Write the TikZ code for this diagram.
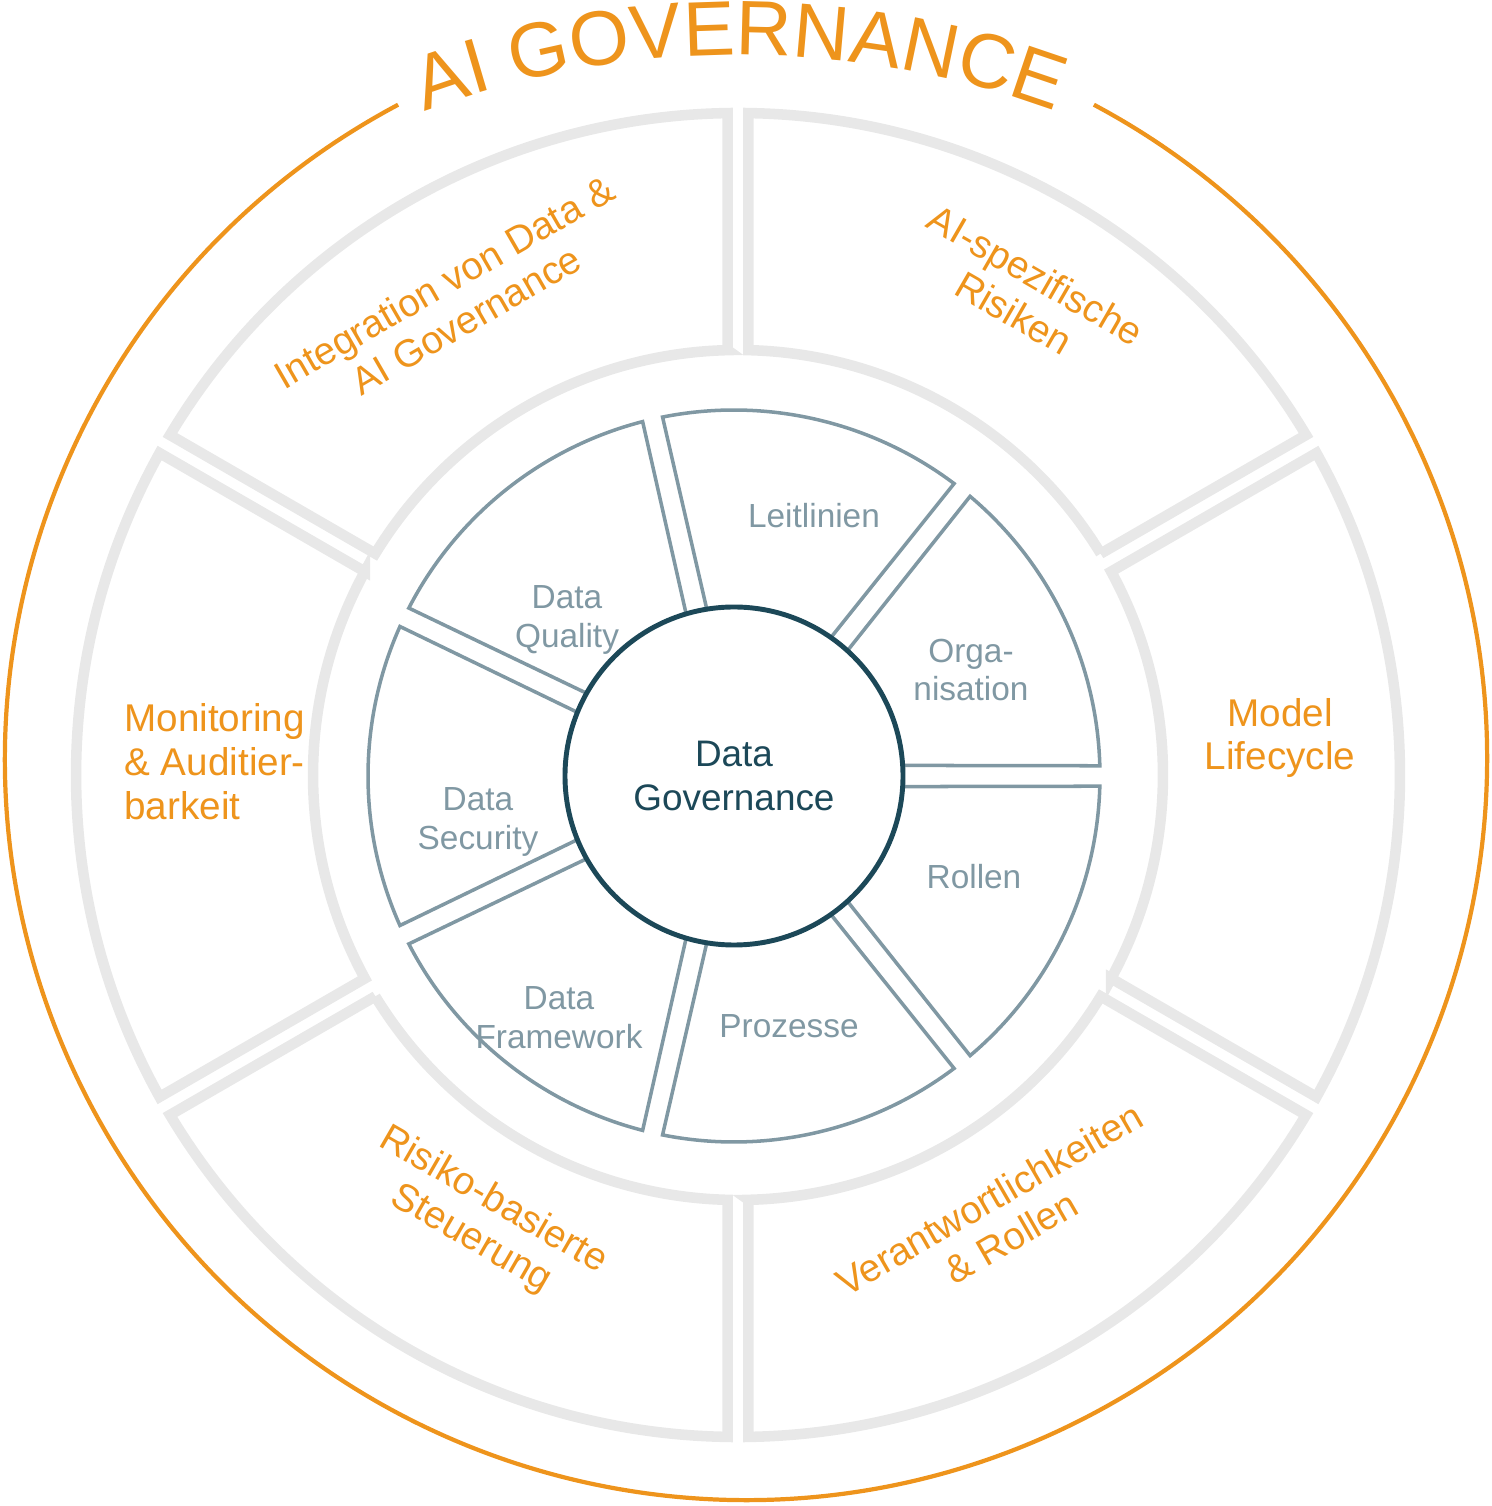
\documentclass[tikz,border=0pt]{standalone}
\usepackage{fontspec}
\setmainfont{Liberation Sans}
\usetikzlibrary{decorations.text}
\definecolor{aiorange}{RGB}{238,148,28}
\definecolor{segline}{RGB}{128,152,163}
\definecolor{dgteal}{RGB}{28,72,88}
\tikzset{
  ringseg/.style={fill=white, draw=black!9, line width=3pt},
  dgseg/.style={fill=white, draw=segline, line width=1pt},
  outerlabel/.style={text=aiorange, font=\fontsize{11}{12.5}\selectfont, align=center},
  innerlabel/.style={text=segline, font=\fontsize{9.5}{11}\selectfont, align=center}
}
% style, start angle, width angle, inner r, outer r, inner gap, outer gap
\newcommand{\annseg}[7]{%
  \pgfmathsetmacro{\segsa}{#2+#6}%
  \pgfmathsetmacro{\segsb}{#2+#7}%
  \pgfmathsetmacro{\segea}{#2+#3-#6}%
  \pgfmathsetmacro{\segeb}{#2+#3-#7}%
  \path[#1] (\segsa:#4) -- (\segsb:#5) arc[start angle=\segsb, end angle=\segeb, radius=#5]
    -- (\segea:#4) arc[start angle=\segea, end angle=\segsa, radius=#4] -- cycle;}
\begin{document}
\begin{tikzpicture}
  \useasboundingbox (0,0) rectangle (14.91,15.06);
  % outer orange ring and title
  \draw[aiorange, line width=1.2pt] (7.46,7.47) ++(118:7.41) arc[start angle=118, end angle=422, radius=7.41];
  \path[decorate, decoration={text along path, text align=center,
      text={|\fontsize{22}{22}\selectfont\color{aiorange}|AI GOVERNANCE}}]
    (7.40,5.43) ++(111:9.08) arc[start angle=111, end angle=69, radius=9.08];
  % middle ring
  \begin{scope}[shift={(7.38,7.31)}]
    \foreach \segang in {-150,-90,-30,30,90,150}
      {\annseg{ringseg}{\segang}{60}{4.25}{6.62}{1.4}{0.9}}
  \end{scope}
  % inner ring
  \begin{scope}[shift={(7.34,7.30)}]
    \foreach \segang in {0,51.4286,102.8571,154.2857,205.7143,257.1429,308.5714}
      {\annseg{dgseg}{\segang}{51.4286}{1.6}{3.66}{3.8}{1.6}}
    \node[circle, minimum size=3.38cm, fill=white, draw=dgteal, line width=1.4pt,
      text=dgteal, align=center, font=\fontsize{10.5}{12.5}\selectfont] (dg) at (0,0) {Data\\Governance};
  \end{scope}
  % inner labels
  \node[innerlabel] (orga) at (9.71,8.36) {Orga-\\nisation};
  \node[innerlabel] (leit) at (8.14,9.90) {Leitlinien};
  \node[innerlabel] (qual) at (5.67,8.86) {Data\\Quality};
  \node[innerlabel] (secu) at (4.78,6.84) {Data\\Security};
  \node[innerlabel] (fram) at (5.59,4.88) {Data\\Framework};
  \node[innerlabel] (proz) at (7.89,4.80) {Prozesse};
  \node[innerlabel] (roll) at (9.74,6.29) {Rollen};
  % outer labels
  \node[outerlabel, rotate=30] (integ) at (4.55,12.05) {Integration von Data \&\\AI Governance};
  \node[outerlabel, rotate=-30] (risk) at (10.25,12.12) {AI-spezifische\\Risiken};
  \node[outerlabel] (model) at (12.80,7.68) {Model\\Lifecycle};
  \node[outerlabel, rotate=30] (verant) at (10.00,2.88) {Verantwortlichkeiten\\\& Rollen};
  \node[outerlabel, rotate=-30] (steuer) at (4.82,2.86) {Risiko-basierte\\Steuerung};
  \node[outerlabel, align=left, anchor=west] (monit) at (1.12,7.44) {Monitoring\\\& Auditier-\\barkeit};
\end{tikzpicture}
\end{document}
